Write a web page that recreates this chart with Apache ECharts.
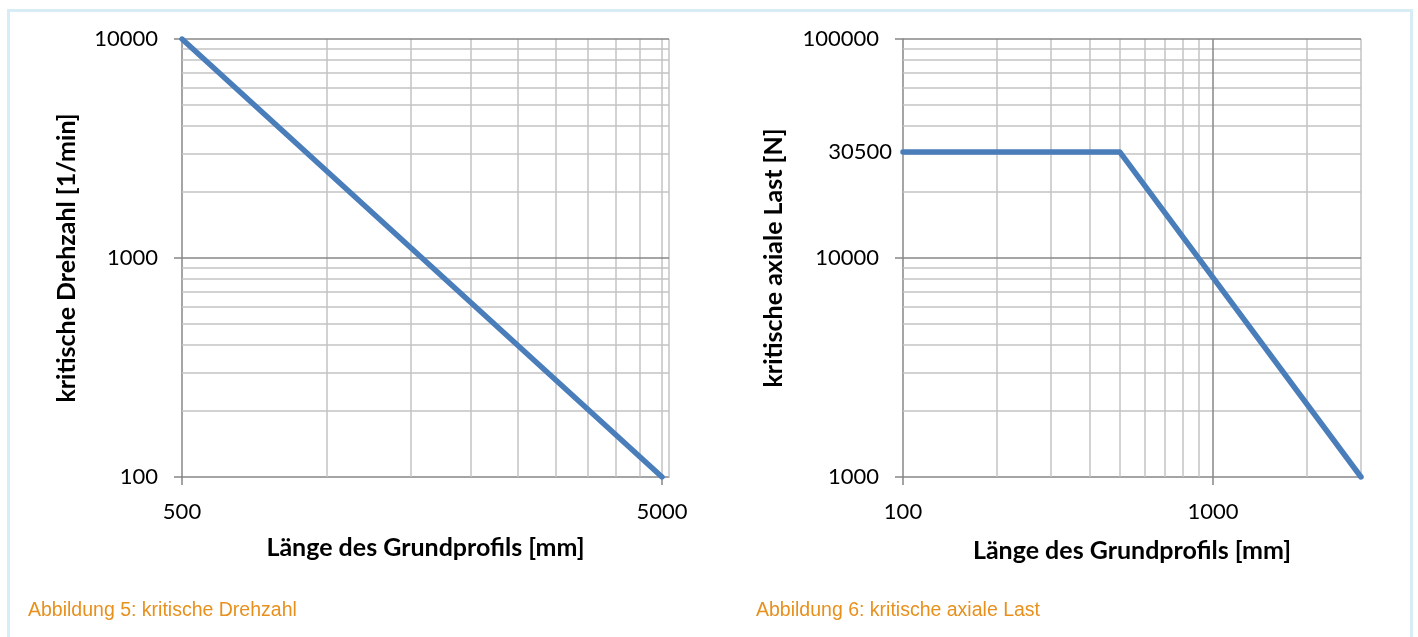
<!DOCTYPE html>
<html>
<head>
<meta charset="utf-8">
<script src="https://cdn.jsdelivr.net/npm/echarts@6/dist/echarts.min.js"></script>
<style>
  html, body { margin: 0; padding: 0; background: #fff; }
  #frame {
    position: absolute; left: 7px; top: 9px; width: 1400px; height: 640px;
    border: 3px solid #d7ecf5; border-bottom: none;
  }
  #chart { position: absolute; left: 0; top: 0; width: 1418px; height: 637px; }
</style>
</head>
<body>
<div id="frame"></div>
<div id="chart"></div>
<script>
  // Abbildung 5: kritische Drehzahl
  var drehzahlLaenge = [500, 5000];
  var drehzahlWert = [10000, 100];
  var drehzahlXLabels = [500, 5000];
  var drehzahlYLabels = [100, 1000, 10000];
  var drehzahlXGrid = [1000, 1500, 2000, 2500, 3000, 3500, 4000, 4500, 5000];
  var drehzahlYMajor = [1000, 10000];
  var drehzahlYMinor = [200, 300, 400, 500, 600, 700, 800, 900, 2000, 3000, 4000, 5000, 6000, 7000, 8000, 9000];

  // Abbildung 6: kritische axiale Last
  var lastLaenge = [100, 500, 3000];
  var lastWert = [30500, 30500, 1000];
  var lastXLabels = [100, 1000];
  var lastYLabels = [1000, 10000, 100000];
  var lastXMajor = [1000];
  var lastXMinor = [200, 300, 400, 500, 600, 700, 800, 900, 2000, 3000];
  var lastYMajor = [10000, 100000];
  var lastYMinor = [2000, 3000, 4000, 5000, 6000, 7000, 8000, 9000, 20000, 30000, 40000, 50000, 60000, 70000, 80000, 90000];

  var majorColor = '#878787';
  var minorColor = '#c3c3c3';
  var lineBlue = '#4a7ebb';
  var font = 'Lato, "Open Sans", sans-serif';
  var capFont = '"Liberation Sans", Arial, sans-serif';

  function plain(v) { return String(Math.round(v)); }

  function gridLines(xMajor, xMinor, yMajor, yMinor) {
    var d = [];
    xMinor.forEach(function (v) { d.push({ xAxis: v, lineStyle: { color: minorColor } }); });
    yMinor.forEach(function (v) { d.push({ yAxis: v, lineStyle: { color: minorColor } }); });
    xMajor.forEach(function (v) { d.push({ xAxis: v, lineStyle: { color: majorColor } }); });
    yMajor.forEach(function (v) { d.push({ yAxis: v, lineStyle: { color: majorColor } }); });
    return {
      silent: true,
      symbol: 'none',
      animation: false,
      label: { show: false },
      lineStyle: { type: 'solid', width: 1.5 },
      data: d
    };
  }

  function xAxisFor(idx, min, max, labels, name, gap) {
    return {
      type: 'log', logBase: 10, gridIndex: idx, min: min, max: max,
      name: name, nameLocation: 'middle', nameGap: gap,
      nameTextStyle: { fontFamily: font, fontWeight: 'bold', fontSize: 25, color: '#000' },
      axisLine: { show: true, lineStyle: { color: majorColor, width: 1.5 } },
      axisTick: { show: true, customValues: labels, length: 8, lineStyle: { color: majorColor, width: 1.5 } },
      axisLabel: { customValues: labels, margin: 24, fontFamily: font, fontSize: 22, color: '#000', formatter: plain },
      splitLine: { show: false }
    };
  }

  function yAxisFor(idx, min, max, labels, name, gap) {
    return {
      type: 'log', logBase: 10, gridIndex: idx, min: min, max: max,
      name: name, nameLocation: 'middle', nameGap: gap,
      nameTextStyle: { fontFamily: font, fontWeight: 'bold', fontSize: 25, color: '#000' },
      axisLine: { show: true, lineStyle: { color: majorColor, width: 1.5 } },
      axisTick: { show: true, customValues: labels, length: 8, lineStyle: { color: majorColor, width: 1.5 } },
      axisLabel: { customValues: labels, margin: 24, fontFamily: font, fontSize: 22, color: '#000', formatter: plain },
      splitLine: { show: false }
    };
  }

  function pairs(xs, ys) {
    return xs.map(function (x, i) { return [x, ys[i]]; });
  }

  var myChart = echarts.init(document.getElementById('chart'));
  window.addEventListener('resize', function () { myChart.resize(); });

  myChart.setOption({
    animation: false,
    title: [{
      text: 'Abbildung 5: kritische Drehzahl',
      left: 28, top: 601, padding: 0,
      textStyle: { fontFamily: capFont, fontWeight: 'normal', fontSize: 19.5, color: '#e8901c' }
    }, {
      text: 'Abbildung 6: kritische axiale Last',
      left: 756, top: 601, padding: 0,
      textStyle: { fontFamily: capFont, fontWeight: 'normal', fontSize: 19.5, color: '#e8901c' }
    }],
    grid: [
      { left: 182, top: 39, width: 487, height: 438 },
      { left: 903, top: 39, width: 458, height: 438 }
    ],
    xAxis: [
      xAxisFor(0, 500, 5170, drehzahlXLabels, 'Länge des Grundprofils [mm]', 58),
      xAxisFor(1, 100, 3000, lastXLabels, 'Länge des Grundprofils [mm]', 61)
    ],
    yAxis: [
      yAxisFor(0, 100, 10000, drehzahlYLabels, 'kritische Drehzahl [1/min]', 103),
      yAxisFor(1, 1000, 100000, lastYLabels, 'kritische axiale Last [N]', 117)
    ],
    series: [{
      // Gitterlinien links
      type: 'line', xAxisIndex: 0, yAxisIndex: 0, z: 1,
      data: pairs(drehzahlLaenge, drehzahlWert),
      showSymbol: false, silent: true, lineStyle: { opacity: 0 },
      markLine: gridLines([], drehzahlXGrid.concat([5170]), drehzahlYMajor, drehzahlYMinor)
    }, {
      type: 'line', xAxisIndex: 0, yAxisIndex: 0, z: 5,
      data: pairs(drehzahlLaenge, drehzahlWert),
      showSymbol: false,
      lineStyle: { color: lineBlue, width: 5.5, cap: 'round' }
    }, {
      // Gitterlinien rechts
      type: 'line', xAxisIndex: 1, yAxisIndex: 1, z: 1,
      data: pairs(lastLaenge, lastWert),
      showSymbol: false, silent: true, lineStyle: { opacity: 0 },
      markLine: gridLines(lastXMajor, lastXMinor, lastYMajor, lastYMinor)
    }, {
      type: 'line', xAxisIndex: 1, yAxisIndex: 1, z: 5,
      data: pairs(lastLaenge, lastWert),
      showSymbol: false,
      lineStyle: { color: lineBlue, width: 5.5, cap: 'round', join: 'round' },
      markPoint: {
        silent: true,
        symbol: 'circle', symbolSize: 0,
        label: { show: true, position: 'left', distance: 11, fontFamily: font, fontSize: 22, color: '#000', formatter: '{c}' },
        data: [{ coord: [lastLaenge[0], lastWert[0]], value: lastWert[0] }]
      }
    }]
  });
</script>
</body>
</html>
